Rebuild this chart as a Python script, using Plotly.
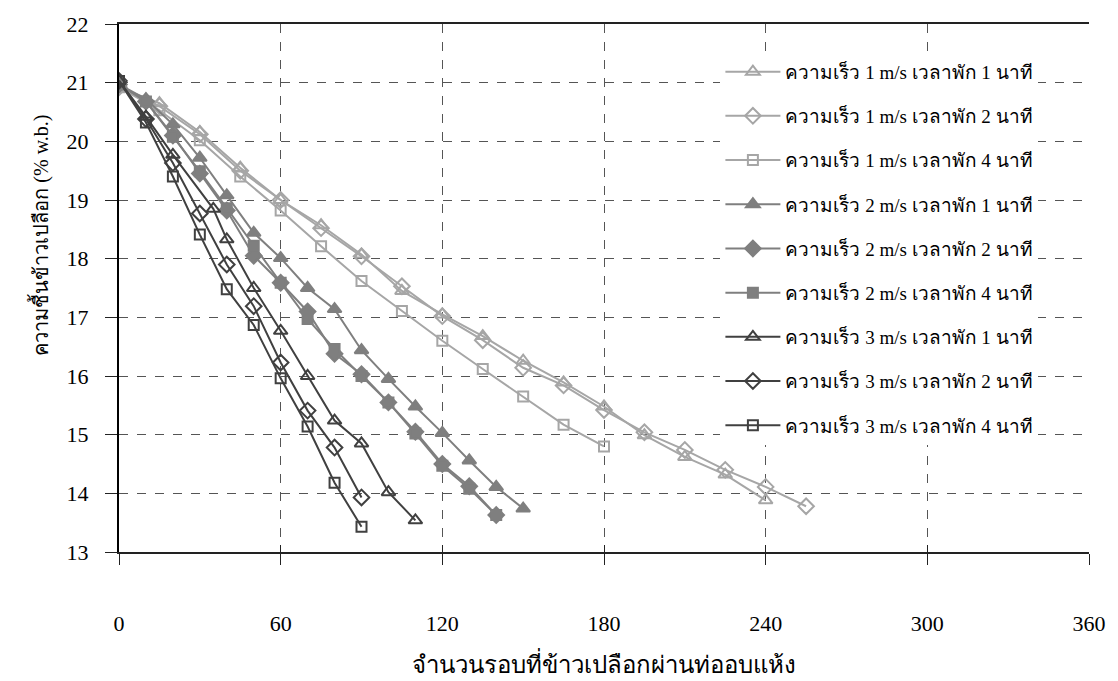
import plotly.graph_objects as go

names = [
    "ความเร็ว 1 m/s เวลาพัก 1 นาที",
    "ความเร็ว 1 m/s เวลาพัก 2 นาที",
    "ความเร็ว 1 m/s เวลาพัก 4 นาที",
    "ความเร็ว 2 m/s เวลาพัก 1 นาที",
    "ความเร็ว 2 m/s เวลาพัก 2 นาที",
    "ความเร็ว 2 m/s เวลาพัก 4 นาที",
    "ความเร็ว 3 m/s เวลาพัก 1 นาที",
    "ความเร็ว 3 m/s เวลาพัก 2 นาที",
    "ความเร็ว 3 m/s เวลาพัก 4 นาที",
]

x_1_1 = [0, 15, 30, 45, 60, 75, 90, 105, 120, 135, 150, 165, 180, 195, 210, 225, 240]
y_1_1 = [20.92, 20.65, 20.16, 19.55, 19.0, 18.57, 18.07, 17.45, 17.05, 16.68, 16.26, 15.89, 15.48, 14.99, 14.62, 14.32, 13.88]
x_1_2 = [0, 15, 30, 45, 60, 75, 90, 105, 120, 135, 150, 165, 180, 195, 210, 225, 240, 255]
y_1_2 = [20.92, 20.6, 20.12, 19.5, 19.0, 18.52, 18.04, 17.53, 17.02, 16.61, 16.14, 15.84, 15.42, 15.04, 14.74, 14.40, 14.11, 13.78]
x_1_4 = [0, 15, 30, 45, 60, 75, 90, 105, 120, 135, 150, 165, 180]
y_1_4 = [20.92, 20.53, 20.02, 19.4, 18.82, 18.21, 17.62, 17.11, 16.6, 16.12, 15.65, 15.17, 14.80]

x_2_1 = [0, 10, 20, 30, 40, 50, 60, 70, 80, 90, 100, 110, 120, 130, 140, 150]
y_2_1 = [20.97, 20.72, 20.29, 19.72, 19.08, 18.44, 18.01, 17.5, 17.14, 16.44, 15.95, 15.48, 15.03, 14.56, 14.11, 13.74]
x_2_2 = [0, 10, 20, 30, 40, 50, 60, 70, 80, 90, 100, 110, 120, 130, 140]
y_2_2 = [20.97, 20.68, 20.1, 19.45, 18.82, 18.05, 17.59, 17.1, 16.38, 16.03, 15.55, 15.05, 14.5, 14.12, 13.63]
x_2_4 = [0, 10, 20, 30, 40, 50, 60, 70, 80, 90, 100, 110, 120, 130, 140]
y_2_4 = [20.97, 20.68, 20.08, 19.49, 18.86, 18.22, 17.59, 16.97, 16.46, 16.0, 15.55, 15.02, 14.47, 14.08, 13.63]

x_3_1 = [0, 10, 20, 35, 40, 50, 60, 70, 80, 90, 100, 110]
y_3_1 = [21.03, 20.42, 19.77, 18.85, 18.33, 17.5, 16.77, 16.0, 15.24, 14.85, 14.02, 13.54]
x_3_2 = [0, 10, 20, 30, 40, 50, 60, 70, 80, 90]
y_3_2 = [21.03, 20.38, 19.63, 18.77, 17.9, 17.19, 16.23, 15.41, 14.78, 13.93]
x_3_4 = [0, 10, 20, 30, 40, 50, 60, 70, 80, 90]
y_3_4 = [21.03, 20.32, 19.4, 18.41, 17.48, 16.87, 15.96, 15.14, 14.18, 13.43]

x_ticks = [0, 60, 120, 180, 240, 300, 360]
y_ticks = [13, 14, 15, 16, 17, 18, 19, 20, 21, 22]

xs = [x_1_1, x_1_2, x_1_4, x_2_1, x_2_2, x_2_4, x_3_1, x_3_2, x_3_4]
ys = [y_1_1, y_1_2, y_1_4, y_2_1, y_2_2, y_2_4, y_3_1, y_3_2, y_3_4]

LIGHT = "#a6a6a6"
MID = "#7f7f7f"
DARK = "#404040"
styles = [
    (LIGHT, "triangle-up-open", 12),
    (LIGHT, "diamond-open", 12),
    (LIGHT, "square-open", 10),
    (MID, "triangle-up", 12),
    (MID, "diamond", 12),
    (MID, "square", 10),
    (DARK, "triangle-up-open", 12),
    (DARK, "diamond-open", 12),
    (DARK, "square-open", 10),
]

SERIF = "Liberation Serif, serif"

fig = go.Figure()
for i, (nm, xv, yv, st) in enumerate(zip(names, xs, ys, styles)):
    col, sym, sz = st
    fig.add_trace(go.Scatter(
        x=xv, y=yv, name=nm, mode="lines+markers", legendgroup=str(i),
        line=dict(color=col, width=2),
        marker=dict(color=col, symbol=sym, size=sz,
                    line=dict(color=col, width=2)),
    ))

# invisible trace on overlay axis to carry inside ticks
fig.add_trace(go.Scatter(x=[0], y=[13], xaxis="x2", showlegend=False,
                         mode="markers", marker=dict(opacity=0), hoverinfo="skip"))

fig.update_layout(
    width=1118, height=681,
    margin=dict(l=119, r=23, t=22, b=129),
    paper_bgcolor="white", plot_bgcolor="white",
    font=dict(family=SERIF, size=22, color="black"),
    showlegend=True,
    legend=dict(
        x=0.620, y=0.9455, xanchor="left", yanchor="top",
        bgcolor="white", borderwidth=0,
        font=dict(family=SERIF, size=19, color="black"),
        tracegroupgap=16.5, itemwidth=55,
    ),
    xaxis=dict(
        range=[0, 360], tickvals=x_ticks, ticktext=[str(v) for v in x_ticks],
        showgrid=True, gridcolor="#555555", griddash="dash", gridwidth=1,
        showline=True, linecolor="#222222", linewidth=2, mirror=True,
        ticks="outside", ticklen=11, tickcolor="#222222",
        ticklabelstandoff=40, zeroline=False,
        tickfont=dict(family=SERIF, size=22),
    ),
    xaxis2=dict(
        overlaying="x", matches="x", range=[0, 360], tickvals=x_ticks,
        showticklabels=False, showgrid=False, ticks="inside", ticklen=7,
        tickcolor="#222222", side="bottom", showline=False, zeroline=False,
    ),
    yaxis=dict(
        range=[13, 22], tickvals=y_ticks, ticktext=[str(v) for v in y_ticks],
        showgrid=True, gridcolor="#555555", griddash="dash", gridwidth=1,
        showline=True, linecolor="black", linewidth=2,
        ticks="outside", ticklen=12, tickcolor="#222222",
        ticklabelstandoff=12,
        zeroline=False, tickfont=dict(family=SERIF, size=22),
    ),
    annotations=[
        dict(text="ความชื้นข้าวเปลือก (% w.b.)", xref="paper", yref="paper",
             x=-0.081, y=0.6, xanchor="center", yanchor="middle",
             textangle=-90, showarrow=False,
             font=dict(family=SERIF, size=20, color="black")),
        dict(text="จำนวนรอบที่ข้าวเปลือกผ่านท่ออบแห้ง", xref="paper", yref="paper",
             x=0.5, y=-0.21, xanchor="center", yanchor="middle",
             showarrow=False,
             font=dict(family=SERIF, size=24, color="black")),
    ],
)

fig.write_html("out.html")
